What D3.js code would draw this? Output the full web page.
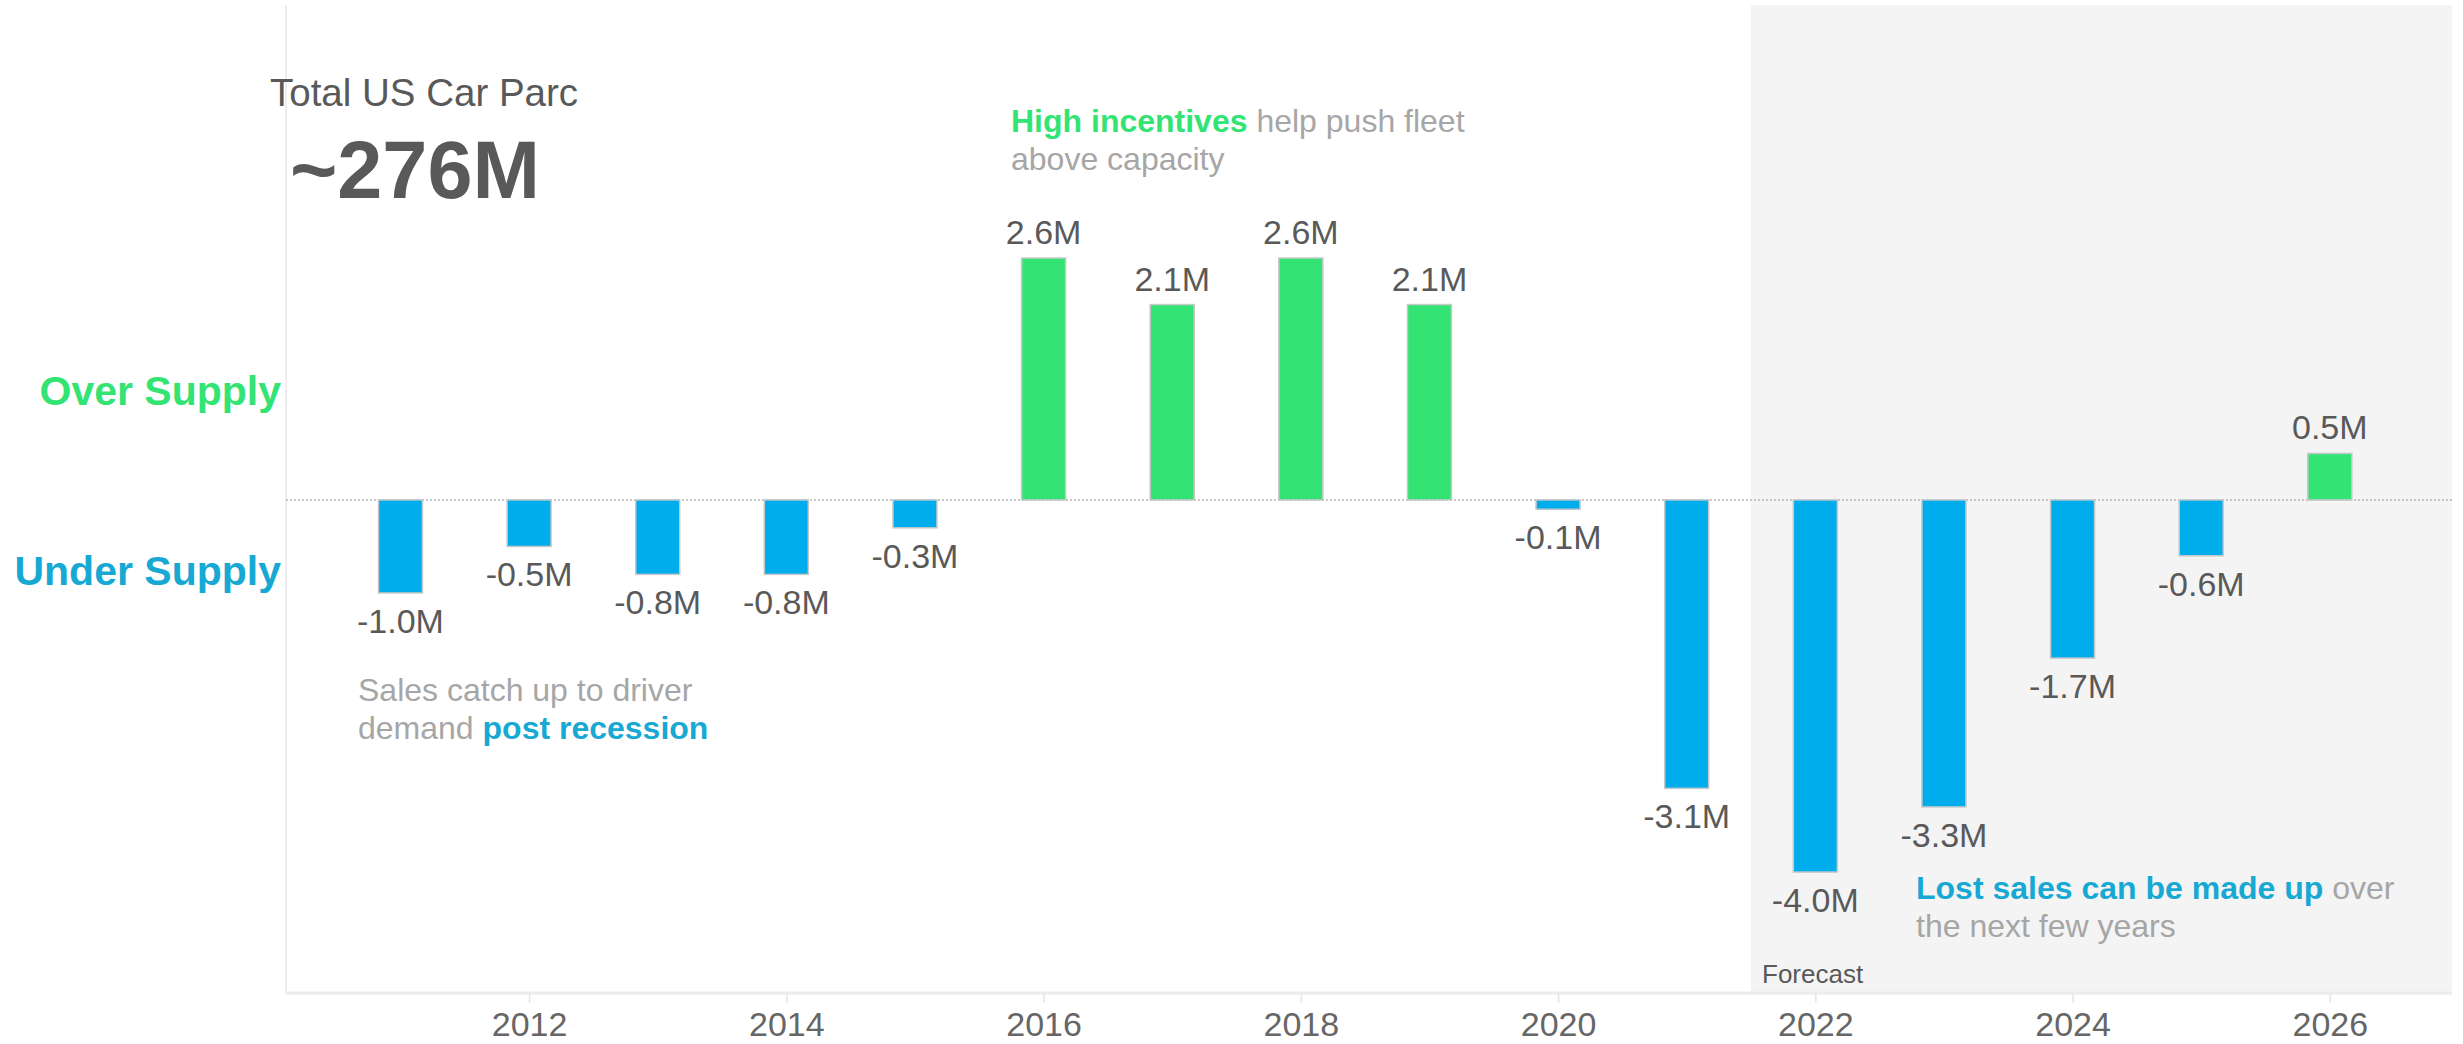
<!DOCTYPE html>
<html>
<head>
<meta charset="utf-8">
<script src="https://cdn.jsdelivr.net/npm/d3@7"></script>
<style>
  html, body { margin: 0; padding: 0; background: #ffffff; }
  svg { display: block; font-family: "Liberation Sans", Arial, sans-serif; }
</style>
</head>
<body>
<svg id="chart" width="2463" height="1044"></svg>
<script>
// Annual gap between new-vehicle sales and driver demand (millions of vehicles)
const years = [2011, 2012, 2013, 2014, 2015, 2016, 2017, 2018, 2019, 2020, 2021, 2022, 2023, 2024, 2025, 2026];
const gapValues = [-1.0, -0.5, -0.8, -0.8, -0.3, 2.6, 2.1, 2.6, 2.1, -0.1, -3.1, -4.0, -3.3, -1.7, -0.6, 0.5];
const tickYears = [2012, 2014, 2016, 2018, 2020, 2022, 2024, 2026];
const forecastStart = 2021.5;
const fleetTotal = "~276M";

const GREEN = "#33e474";
const BLUE = "#00adec";
const BLUE_TEXT = "#17a9d3";
const GRAY_TEXT = "#a6a6a6";
const DARK_TEXT = "#595959";

const svg = d3.select("#chart");

const plot = { left: 286, right: 2452, top: 5, bottom: 993 };

const x = d3.scaleLinear().domain([2010.11, 2026.95]).range([plot.left, plot.right]);
const y = d3.scaleLinear().domain([-5.3, 5.32]).range([plot.bottom, plot.top]);
const barWidth = 44;

const data = years.map((yr, i) => ({ year: yr, value: gapValues[i] }));

// Forecast band
svg.append("rect")
  .attr("x", x(forecastStart))
  .attr("y", plot.top)
  .attr("width", plot.right - x(forecastStart))
  .attr("height", plot.bottom - plot.top)
  .attr("fill", "#f4f4f4");

// Left frame line
svg.append("line")
  .attr("x1", plot.left).attr("x2", plot.left)
  .attr("y1", plot.top).attr("y2", plot.bottom)
  .attr("stroke", "#ededed").attr("stroke-width", 2);

// Bottom axis
const xAxis = d3.axisBottom(x)
  .tickValues(tickYears)
  .tickFormat(d3.format("d"))
  .tickSize(10)
  .tickPadding(9);

const axisG = svg.append("g")
  .attr("transform", `translate(0,${plot.bottom})`)
  .call(xAxis);
axisG.select(".domain")
  .attr("stroke", "#ececec").attr("stroke-width", 3)
  .attr("d", `M${plot.left},0H${plot.right}`);
axisG.selectAll(".tick line").attr("stroke", "#e6e6e6").attr("stroke-width", 1.5);
axisG.selectAll(".tick text")
  .attr("fill", "#666666")
  .style("font-size", "34px")
  .style("font-family", "'Liberation Sans', Arial, sans-serif");

// Zero baseline
svg.append("line")
  .attr("x1", plot.left).attr("x2", plot.right)
  .attr("y1", y(0)).attr("y2", y(0))
  .attr("stroke", "#b5b5b5").attr("stroke-width", 1.5)
  .attr("stroke-dasharray", "2,2");

// Bars
svg.append("g").selectAll("rect")
  .data(data)
  .join("rect")
  .attr("x", d => x(d.year) - barWidth / 2)
  .attr("y", d => y(Math.max(0, d.value)))
  .attr("width", barWidth)
  .attr("height", d => Math.abs(y(d.value) - y(0)))
  .attr("fill", d => d.value >= 0 ? GREEN : BLUE)
  .attr("stroke", "#c4c8c8")
  .attr("stroke-width", 1.5);

// Value labels
const fmt = v => `${v < 0 ? "-" : ""}${Math.abs(v).toFixed(1)}M`;
svg.append("g").selectAll("text")
  .data(data)
  .join("text")
  .attr("x", d => x(d.year))
  .attr("y", d => d.value >= 0 ? y(d.value) - 14 : y(d.value) + 40)
  .attr("text-anchor", "middle")
  .attr("fill", DARK_TEXT)
  .style("font-size", "34px")
  .text(d => fmt(d.value));

// Headline figure
svg.append("text")
  .attr("x", 270).attr("y", 106)
  .attr("fill", DARK_TEXT)
  .style("font-size", "38.5px")
  .text("Total US Car Parc");
svg.append("text")
  .attr("x", 290).attr("y", 198)
  .attr("fill", DARK_TEXT)
  .style("font-size", "81px")
  .style("font-weight", "bold")
  .text(fleetTotal);

// Side labels
svg.append("text")
  .attr("x", 281).attr("y", 405)
  .attr("text-anchor", "end")
  .attr("fill", GREEN)
  .style("font-size", "41px").style("font-weight", "bold")
  .text("Over Supply");
svg.append("text")
  .attr("x", 281).attr("y", 585)
  .attr("text-anchor", "end")
  .attr("fill", BLUE_TEXT)
  .style("font-size", "41px").style("font-weight", "bold")
  .text("Under Supply");

// Callouts: each line is a list of [text, colour, bold]
function callout(px, py, lines) {
  const t = svg.append("text")
    .attr("x", px).attr("y", py)
    .style("font-size", "32px");
  lines.forEach((parts, li) => {
    parts.forEach(([str, color, bold], pi) => {
      const ts = t.append("tspan").text(str).attr("fill", color);
      if (bold) ts.style("font-weight", "bold");
      if (pi === 0) ts.attr("x", px).attr("dy", li === 0 ? 0 : 38);
    });
  });
}

callout(1011, 132, [
  [["High incentives", GREEN, true], [" help push fleet", GRAY_TEXT, false]],
  [["above capacity", GRAY_TEXT, false]]
]);
callout(358, 701, [
  [["Sales catch up to driver", GRAY_TEXT, false]],
  [["demand ", GRAY_TEXT, false], ["post recession", BLUE_TEXT, true]]
]);
callout(1916, 899, [
  [["Lost sales can be made up", BLUE_TEXT, true], [" over", GRAY_TEXT, false]],
  [["the next few years", GRAY_TEXT, false]]
]);

// Forecast tag
svg.append("text")
  .attr("x", 1762).attr("y", 983)
  .attr("fill", DARK_TEXT)
  .style("font-size", "26px")
  .text("Forecast");
</script>
</body>
</html>
